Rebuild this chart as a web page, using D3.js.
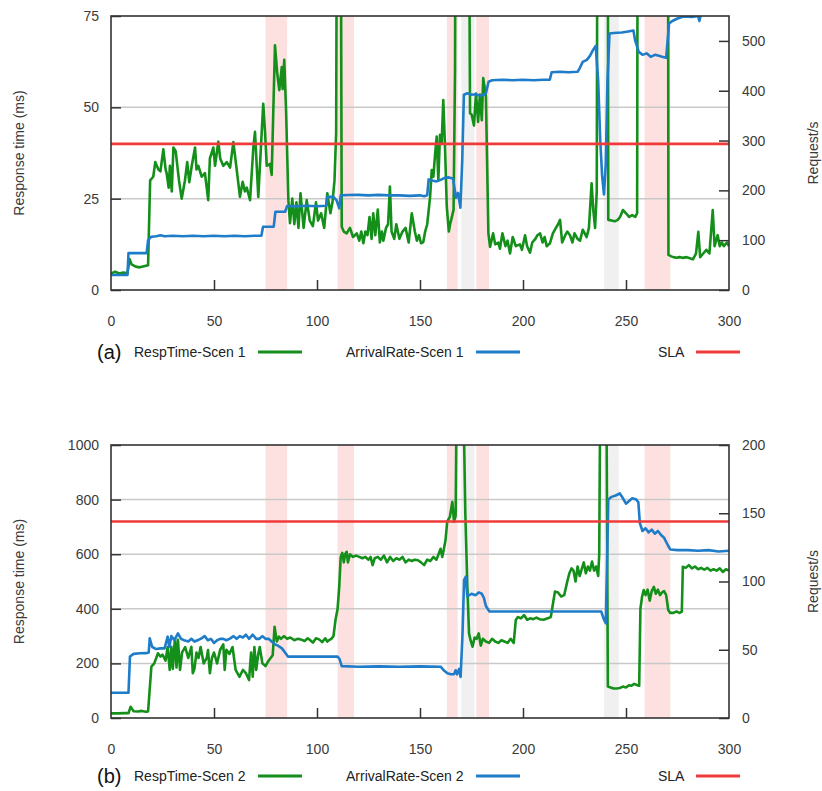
<!DOCTYPE html>
<html><head><meta charset="utf-8">
<script src="https://cdn.jsdelivr.net/npm/d3@7"></script>
<style>
html,body{margin:0;padding:0;background:#fff;}
svg{display:block;font-family:"Liberation Sans",Arial,Helvetica,sans-serif;}
</style></head><body>
<svg id="c" width="822" height="791"></svg>
<script>
// ---------- DATA ----------
const xTicks = [0, 50, 100, 150, 200, 250, 300];
const leftTicksA = [0, 25, 50, 75];
const rightTicksA = [0, 100, 200, 300, 400, 500];
const leftTicksB = [0, 200, 400, 600, 800, 1000];
const rightTicksB = [0, 50, 100, 150, 200];
const slaA = 40;
const slaB = 720;
const pinkBands = [[75, 85.5], [110, 118], [163, 168.3], [177.3, 183.5], [259, 271.5]];
const grayBands = [[170, 176.5], [239.3, 246.5]];
const legendA = ["(a)", "RespTime-Scen 1", "ArrivalRate-Scen 1", "SLA"];
const legendB = ["(b)", "RespTime-Scen 2", "ArrivalRate-Scen 2", "SLA"];

// Response time scenario 1 (ms) [time, value]
const respTime1 = [[0,4.5],[2,5],[4,4.5],[6,4.8],[8,4.6],[9,8.5],[10,7],[12,6.4],[14,6.2],[16,6.5],[18,6.8],[19,30],[20.5,31],[21.5,35],[23,33],[24,32.5],[25.4,38.5],[26.5,33],[27,32],[28,28],[28.6,34],[29.5,27],[30.3,39],[31.4,38],[33,30],[34.3,25],[35.9,30],[37,35],[38,29.5],[39.2,34],[40.8,39],[41.5,33],[42.4,34],[44,31],[45.6,32],[47.2,24.6],[48,36],[49.7,39],[50.5,34],[52.1,40.6],[53,36],[54.5,34],[56.2,35],[57.8,33.5],[59.4,40.5],[61,33],[62.6,25.5],[63.9,29.6],[65,27],[65.9,28],[67.5,24.6],[69.1,39],[69.9,43.3],[71.5,25.5],[73.9,51],[74.8,43],[75.6,34],[77.2,34.5],[78,31.5],[79.6,67],[80.7,59.3],[81.7,54.7],[82.9,61],[83.3,55],[84.1,63],[85,49],[86.1,24.6],[86.9,18.3],[88,25],[89,18],[90,24],[91,17],[92,26.5],[93.5,17],[95,24.6],[96.5,19],[98,17.5],[99.5,24],[100.5,19],[102,21],[103.5,17],[105,26.5],[106.5,21],[107.5,24],[108.5,30],[109.3,43],[109.9,160],[111.3,160],[112,17.3],[113,16],[114.4,15.5],[116,17],[117.5,14.5],[119.3,15.5],[120.5,13.5],[121.5,16],[122.5,12.8],[123.5,16],[124.5,15],[125.5,20],[126.5,14],[127.3,21],[128.3,15],[129.5,22],[130.5,13],[131.5,16],[132.2,13.5],[133.5,17],[134.5,18],[135.4,28.3],[136.2,16],[137.5,14],[138.5,18],[140,14],[141.5,16],[143,17],[144.5,13],[146,21],[147.5,16],[148.5,13.5],[149.5,15],[150.5,12.8],[151.6,13.1],[152.5,16],[153.5,18],[154.9,25.5],[155.7,32.8],[156.5,31],[157.3,37],[158.1,42],[158.9,30],[159.7,42.5],[160.5,40],[161.3,52],[162.1,40],[163,22.8],[164,16],[164.6,18],[165.5,20],[166.3,22],[167,60],[167.5,160],[173.3,160],[174.3,48.4],[175.1,48],[176.2,45],[177.2,53.8],[178.2,46],[179.1,53.5],[180,46.5],[180.7,58],[182,53],[183.2,15.5],[184,11.8],[185.5,15.5],[186.5,12.5],[188,13],[188.8,11.3],[190,15.5],[191.5,12],[192.5,13.5],[193.7,10],[195,14.5],[196.5,12],[198.5,12.5],[199.5,11],[201,15],[202,12],[203.4,10.2],[204.5,13],[206,14],[207,15],[208.3,15.5],[209.5,13],[210.5,14.5],[211.5,12],[213.1,12.8],[214.5,15.5],[215.5,16.5],[217,18],[218,19.2],[219,13],[220.5,15],[221.5,16],[222.8,15],[224,13],[225,15.5],[226.5,14],[227.7,13.5],[229,16.5],[230.9,14.5],[232,17],[233.3,29.2],[234.1,22],[235,17],[235.8,27],[236.3,160],[241,160],[241.4,19.2],[243,19],[244.5,18.8],[246,19.2],[247.1,20],[248.5,21.9],[250,21],[251.5,20],[253,20.5],[254.5,20],[255.4,21],[255.8,160],[270.3,160],[270.6,9.6],[272,9.2],[273,9],[274.5,8.8],[276,9],[277.5,8.8],[279.5,9],[281,8.7],[282.5,8.4],[284,10],[285.1,15.9],[286,9],[287.5,10],[289,11],[290.5,10],[292.1,21.9],[293,12],[294.5,15],[295.5,12],[296.5,13],[297.5,12],[299,13],[300,12]];

// Arrival rate scenario 1 (req/s)
const arrival1 = [[0,30],[8,30],[8.5,74],[17.3,74],[18,100],[19.6,107],[22,108],[24,110],[26,108],[30,109],[35,108],[40,109],[45,108],[50,109],[55,108],[60,109],[65,108],[70,109],[73,109],[73.8,127],[79,127],[79.8,157],[84.5,157],[85.5,168.6],[90,168],[95,169],[100,168],[104.5,169],[105,187],[108,187],[109.5,180],[110.8,164],[111.5,190],[115,190.7],[120,191],[125,190],[130,191],[135,190],[140,190],[145,189],[150,190],[152,188],[153.5,190],[154.2,222],[156,220],[158,218],[160,221],[162,225],[164,226],[166,224],[167.5,185],[168.5,195],[169.6,165],[170.5,260],[171.3,392],[173,395],[175,392],[177,393],[179,390],[181,392],[182,395],[183.3,418],[185,421],[190,422],[195,421],[200,422],[205,421],[210,422],[213,422],[213.9,437],[218,438],[222,437],[226.5,438],[227.5,445],[229,458],[231,462],[232.5,470],[234,482],[235.3,490],[236.5,420],[237.5,300],[238.4,230],[239.3,192],[240.2,255],[241,420],[242,515],[244,516],[248,517],[251,519],[253.6,521],[254.5,500],[256.2,478],[258,472],[260,475],[262,468],[264,472],[266,470],[267.5,468],[269.5,466],[270.9,535],[272.5,540],[275,545],[278,549],[282,548],[285,550],[285.6,540],[287,565],[300,575]];

// Response time scenario 2 (ms)
const respTime2 = [[0,17],[3,17],[7,18],[8.5,18],[9.5,41],[11,25],[13,24],[15,26],[17,23],[18,24],[19.6,188],[21,200],[22.8,237],[24,225],[25,232],[26.5,210],[27.5,260],[28.5,176],[29.3,261],[30,180],[31,290],[31.8,185],[32.5,286],[33.5,176],[34.5,240],[36,260],[37.5,220],[39,261],[39.7,164],[40.5,180],[41.5,240],[42.5,220],[43.5,260],[45,200],[46.5,220],[47.1,249],[48,164],[49,220],[50,240],[51.5,200],[53,250],[54.5,270],[55.2,176],[56,250],[57.5,235],[59,260],[60.5,176],[62.4,151],[64,176],[65.5,164],[67,139],[68,240],[68.8,151],[69.6,260],[70.5,176],[71.4,230],[72.2,260],[73.5,200],[75,190],[76.5,210],[78.5,230],[79.4,334],[80.5,280],[81.5,298],[82.5,290],[84,300],[85.5,290],[87,295],[89,285],[90.5,290],[92,288],[94,282],[95.5,292],[97,283],[98,276],[99.5,292],[101,288],[102.5,278],[104,292],[105,280],[106,286],[107,290],[108,300],[109,360],[110,400],[110.8,481],[111.5,590],[112.3,605],[113,570],[113.7,600],[114.4,609],[115,570],[116,600],[117.5,590],[119,595],[120.5,590],[122,585],[123.5,590],[125,580],[126,590],[127,560],[128,585],[129.5,590],[131,580],[132.5,595],[134,570],[135.5,590],[137,575],[138.5,585],[140,580],[141.5,590],[143,570],[144.5,580],[146,575],[147.5,580],[149,578],[150.5,570],[152,560],[153.5,580],[155,575],[156.5,590],[158,580],[159,600],[160,620],[160.8,590],[161.5,615],[162.4,652],[163.2,719],[164.5,737],[165.7,792],[166.5,719],[167.3,740],[167.8,1200],[171,1200],[172,750],[173,480],[173.8,310],[174.5,286],[175.5,261],[176.5,295],[177.5,290],[178.5,310],[179.5,265],[180.5,290],[182,280],[183.5,275],[185,290],[186.5,280],[188,275],[189.5,285],[191,280],[192.5,275],[194,290],[195.5,275],[196.5,359],[197.5,370],[199,365],[200.5,377],[202,360],[203.5,365],[205,362],[206.5,368],[208,362],[210,360],[212,365],[213.5,370],[214.7,426],[215.5,463],[217,460],[218.5,445],[220,450],[221.5,500],[222.5,530],[223.6,548],[224.5,540],[225.5,500],[226.5,555],[227.5,520],[228.5,545],[229.5,570],[230.5,530],[231.5,555],[232.5,540],[233.5,573],[234.5,540],[235.5,555],[236.5,520],[237,600],[237.5,1200],[240.5,1200],[241.2,115],[242.5,112],[244,108],[245.5,108],[247,110],[248.5,115],[250,112],[251.5,120],[252.5,118],[254,125],[255.5,120],[256.4,118],[257,400],[257.8,444],[258.6,469],[259.5,450],[260.5,470],[261.5,430],[262.5,465],[263.5,480],[264.5,455],[265.5,470],[266.5,450],[267.5,460],[268.5,465],[269.5,450],[270.5,396],[271.5,385],[273,385],[274.5,390],[276,385],[277.1,390],[277.6,554],[279,550],[280.5,560],[282,548],[283.5,555],[285,545],[286.5,550],[288,543],[289.5,550],[291,540],[292.5,545],[294,540],[295.5,548],[297,535],[298.5,545],[300,540]];

// Arrival rate scenario 2 (req/s)
const arrival2 = [[0,18.5],[8.5,18.5],[9.2,45],[11,47],[14,47.4],[17,47.5],[18.3,48],[18.8,58.4],[20,52],[22,50.5],[24,51],[26,51],[27.5,59.6],[28.3,52],[29.3,60],[30.8,57],[32.5,62],[34,58],[35.5,57],[37.5,56],[39,58],[40.5,56],[42,57],[43.5,58],[45.5,60],[47,57],[48.5,58],[50,55],[51.5,57],[53,58],[54.5,58],[56,57],[57.5,58],[59.5,60],[61,58],[62.5,60],[64,59],[65.5,61],[67,58],[68.8,61],[70.5,58],[72,58],[73.5,60],[75,58],[76.5,58],[78,56],[79.5,54],[81,53],[83,51],[85.9,45],[90,45],[95,45],[100,45],[105,45],[110,45],[111,43],[112,38],[120,37.6],[130,37.8],[140,37.6],[150,37.8],[160,37.6],[161.5,35],[163.3,32.7],[165,32],[166.5,32],[167.3,35],[168,32],[169,36],[169.7,30],[170.6,60],[171.4,101],[172.2,103.5],[173,89],[175,91],[177,90],[178.5,92],[180,91],[181,88],[182,82],[183.7,78],[190,78],[200,78],[210,78],[220,78],[230,78],[238,78],[239.3,72],[240.2,69.4],[241.4,160],[243,162],[245,163],[247,164.6],[248.5,161],[250,157],[251.5,159],[253,161],[255,160],[256,158],[256.7,143],[258,137],[259.5,139],[261,136],[262.5,138],[264,135],[265.5,137],[267,134],[268.5,132],[270.5,126],[271.5,123.5],[275,123],[280,123],[285,122.5],[290,123],[295,122],[300,122.5]];

// ---------- STYLE ----------
const GREEN = "#14901a", BLUE = "#1f7cc8", RED = "#ef3a3a";
const TEXT = "#3a3a3a";
const svg = d3.select("#c");

function panel(cfg) {
  const {top, bottom, left, right, leftMax, rightMax, leftTicks, rightTicks, rt, ar, sla, legend, legendY, id} = cfg;
  const x = d3.scaleLinear().domain([0, 300]).range([left, right]);
  const yL = d3.scaleLinear().domain([0, leftMax]).range([bottom, top]);
  const yR = d3.scaleLinear().domain([0, rightMax]).range([bottom, top]);
  const g = svg.append("g");
  const fmt = d3.format("d");

  g.append("clipPath").attr("id", "clip" + id).append("rect")
    .attr("x", left).attr("y", top).attr("width", right - left).attr("height", bottom - top);

  // bands
  g.selectAll(".pb").data(pinkBands).enter().append("rect")
    .attr("x", d => x(d[0])).attr("width", d => x(d[1]) - x(d[0]))
    .attr("y", top).attr("height", bottom - top).attr("fill", "#fde1e1");
  g.selectAll(".gb").data(grayBands).enter().append("rect")
    .attr("x", d => x(d[0])).attr("width", d => x(d[1]) - x(d[0]))
    .attr("y", top).attr("height", bottom - top).attr("fill", "#f0f0f0");

  // grid
  g.selectAll(".grid").data(leftTicks.filter(v => v > 0 && v < leftMax)).enter().append("line")
    .attr("x1", left).attr("x2", right).attr("y1", d => yL(d)).attr("y2", d => yL(d))
    .attr("stroke", "#c9c9c9").attr("stroke-width", 1.5);

  const lines = g.append("g").attr("clip-path", `url(#clip${id})`);
  lines.append("path").datum(rt)
    .attr("d", d3.line().x(d => x(d[0])).y(d => yL(d[1])))
    .attr("fill", "none").attr("stroke", GREEN).attr("stroke-width", 2.6).attr("stroke-linejoin", "round");
  lines.append("path").datum(ar)
    .attr("d", d3.line().x(d => x(d[0])).y(d => yR(d[1])))
    .attr("fill", "none").attr("stroke", BLUE).attr("stroke-width", 2.6).attr("stroke-linejoin", "round");
  lines.append("line").attr("x1", left).attr("x2", right).attr("y1", yL(sla)).attr("y2", yL(sla))
    .attr("stroke", RED).attr("stroke-width", 2.6);

  // axes (inward ticks)
  const ax = g.append("g").attr("transform", `translate(0,${bottom})`)
    .call(d3.axisBottom(x).tickValues(xTicks).tickFormat(fmt).tickSize(-10).tickPadding(26).tickSizeOuter(0));
  const al = g.append("g").attr("transform", `translate(${left},0)`)
    .call(d3.axisLeft(yL).tickValues(leftTicks).tickFormat(fmt).tickSize(-10).tickPadding(12).tickSizeOuter(0));
  const ar_ = g.append("g").attr("transform", `translate(${right},0)`)
    .call(d3.axisRight(yR).tickValues(rightTicks).tickFormat(fmt).tickSize(-10).tickPadding(13).tickSizeOuter(0));
  [ax, al, ar_].forEach(a => {
    a.select(".domain").remove();
    a.selectAll(".tick line").attr("stroke", "#333").attr("stroke-width", 1.5);
    a.selectAll(".tick text").attr("fill", TEXT).attr("font-size", 14)
      .attr("font-family", '"Liberation Sans",Arial,sans-serif');
  });
  ax.selectAll(".tick line").filter(d => d === 0 || d === 300).remove();

  // frame
  g.append("rect").attr("x", left).attr("y", top).attr("width", right - left).attr("height", bottom - top)
    .attr("fill", "none").attr("stroke", "#333").attr("stroke-width", 1.6);

  // axis titles
  const midY = (top + bottom) / 2;
  g.append("text").attr("transform", `translate(24,${midY}) rotate(-90)`)
    .attr("text-anchor", "middle").attr("font-size", 14).attr("fill", TEXT).text("Response time (ms)");
  g.append("text").attr("transform", `translate(818,${midY}) rotate(-90)`)
    .attr("text-anchor", "middle").attr("font-size", 14).attr("fill", TEXT).text("Request/s");

  // legend
  const lg = g.append("g").attr("transform", `translate(0,${legendY})`);
  lg.append("text").attr("x", 97).attr("y", 7).attr("font-size", 20).attr("fill", "#111").text(legend[0]);
  const items = [[legend[1], 134, 258, GREEN], [legend[2], 346, 476, BLUE], [legend[3], 658, 696, RED]];
  items.forEach(([t, tx, lx, c]) => {
    lg.append("text").attr("x", tx).attr("y", 5).attr("font-size", 14).attr("fill", "#222").text(t);
    lg.append("line").attr("x1", lx).attr("x2", lx + 44).attr("y1", 0).attr("y2", 0)
      .attr("stroke", c).attr("stroke-width", 3);
  });
}

panel({id: "a", top: 16, bottom: 290, left: 111, right: 729, leftMax: 75, rightMax: 550,
  leftTicks: leftTicksA, rightTicks: rightTicksA, rt: respTime1, ar: arrival1, sla: slaA,
  legend: legendA, legendY: 352});
panel({id: "b", top: 445, bottom: 718, left: 111, right: 729, leftMax: 1000, rightMax: 200,
  leftTicks: leftTicksB, rightTicks: rightTicksB, rt: respTime2, ar: arrival2, sla: slaB,
  legend: legendB, legendY: 776});
</script>
</body></html>
